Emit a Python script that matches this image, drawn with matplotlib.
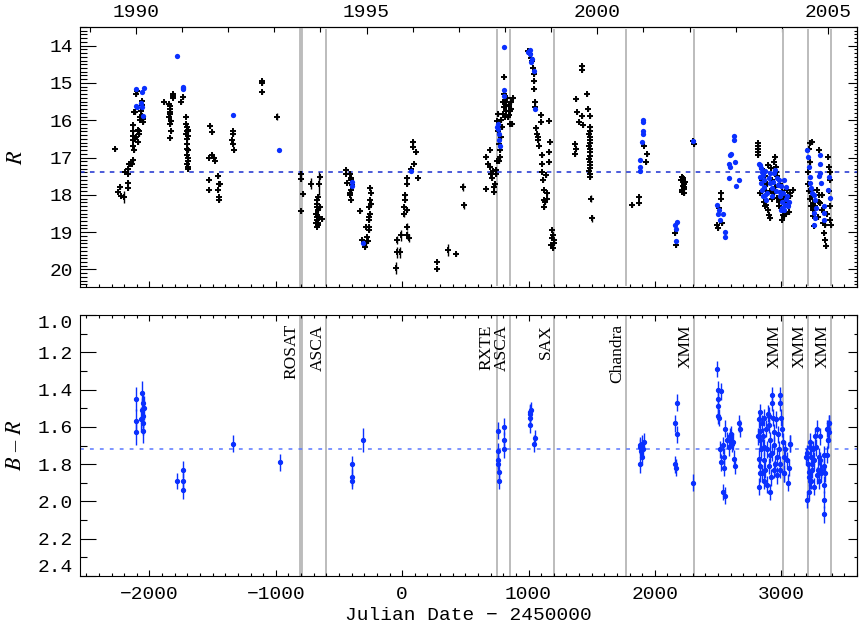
import matplotlib
matplotlib.use("Agg")
import matplotlib.pyplot as plt
import matplotlib.transforms as mtransforms
import numpy as np

# R light curve, black = archival points (plus signs with error bars)
r_black_jd = [
    -2273, -2246, -2233, -2228, -2194, -2167, -2167, -2159, -2167, -2167, -2154, -2141, -2128, -2122,
    -2128, -2128, -2133, -2128, -2128, -2120, -2114, -2106, -2101, -2088, -2080, -2080, -2075, -2070,
    -2062, -2062, -2054, -2048, -2110, -2115, -2090, -2075, -2050, -2058,
    -1885, -1842, -1837, -1837, -1842, -1832, -1837, -1832, -1837, -1816, -1811, -1816, -1840, -1840,
    -1753, -1732,
    -1710, -1711, -1705, -1700, -1711, -1692, -1705, -1700, -1700, -1692, -1700, -1692, -1700, -1692,
    -1692, -1695, -1695, -1697,
    -1520, -1507, -1526, -1505, -1486, -1478, -1526, -1526, -1454, -1449, -1441, -1454, -1446, -1446,
    -1341, -1336, -1349, -1336, -1330, -1111, -1111, -1111,
    -802, -802, -786, -802,
    -676, -676, -681, -676, -676, -670, -662, -668, -654, -654, -670, -636, -681, -676, -672, -665,
    -443, -443, -438, -412, -406, -398, -406, -412, -404, -406, -410, -332,
    -319, -293, -280, -274, -285, -266, -253, -259, -253, -248, -253, -266, -259, -285, -262, -250,
    16, 24, 19, 37, 37, 42, 69, 90, 85, 85, 111, 124, 275, 275, 428,
    666, 666, 676, 697, 697, 710, 724, 729, 737, 745, 750, 750, 755, 763, 771, 776, 782, 790, 798, 803,
    803, 808, 816, 824, 829, 834, 842, 850, 856, 861, 869, 877, 760, 768, 780, 795, 810, 820, 845, 865,
    700, 740, 720,
    993, 1009, 1019, 1027, 1035, 1040, 1046, 1046, 1054, 1054, 1067, 1072, 1080, 1098, 1101, 1106, 1106,
    1114, 1120, 1125, 1125, 1146, 1159, 1167, 1159, 1164, 1138, 1075, 1062, 1110, 1150, 1130,
    1186, 1194, 1199, 1180, 1191, 1199, 1186,
    1370, 1378, 1370, 1378, 1384, 1397, 1423, 1423, 1423, 1431, 1463, 1468, 1484,
    1484, 1486, 1482, 1488, 1484, 1486, 1482, 1488, 1484, 1486, 1482, 1488, 1484, 1486, 1482, 1488, 1486,
    1819, 1872, 1872, 1917, 1938, 1933, 2162, 2170,
    2215, 2221, 2227, 2233, 2215, 2227, 2210, 2220, 2230, 2235, 2212, 2225, 2301, 2307,
    2491, 2523, 2531, 2505, 2525, 2500,
    2816, 2816, 2818, 2816, 2818, 2882, 2892, 2900, 2908, 2940, 2953, 2961, 2940, 2966, 3014, 3006,
    3019, 3046, 3067, 3072, 3093, 2919, 2874, 2861, 2834, 2980, 3024, 2850, 2870, 2890, 2910, 2930,
    2950, 2970, 2990, 3000, 3030, 3050, 3060, 2845, 2880, 2925, 2985, 3040, 3010, 2895, 2960,
    3217, 3230, 3244, 3236, 3244, 3252, 3236, 3252, 3262, 3283, 3296, 3310, 3323, 3331, 3341, 3349,
    3357, 3296, 3368, 3376, 3384, 3389, 3384, 3389, 3225, 3210, 3215, 3230, 3250, 3270, 3290, 3300,
    3320, 3345, 3360, 3380, 3390, 3395, 3220,
]
r_black_mag = [
    16.77, 17.92, 17.79, 18.03, 17.39, 17.30, 17.43, 17.16, 17.67, 17.81, 17.18, 17.16, 17.06, 16.79,
    16.68, 16.54, 16.41, 16.28, 16.12, 15.79, 15.77, 15.30, 15.21, 16.59, 16.38, 16.28, 15.92, 15.74,
    15.49, 15.88, 16.05, 15.96, 16.45, 16.50, 16.25, 16.00, 15.90, 15.60,
    15.52, 15.56, 15.70, 15.83, 15.92, 16.01, 16.10, 16.28, 16.47, 15.30, 15.34, 15.39, 15.62, 15.78,
    15.52, 15.37,
    15.90, 16.10, 16.19, 16.28, 16.36, 16.41, 16.50, 16.63, 16.76, 16.81, 16.94, 17.08, 17.16, 17.25,
    17.30, 16.25, 16.30, 17.00,
    16.16, 16.32, 17.00, 16.92, 17.01, 17.08, 17.59, 17.88, 17.50, 17.70, 17.72, 17.86, 18.07, 18.14,
    16.30, 16.38, 16.54, 16.63, 16.81, 14.94, 15.01, 15.25,
    17.43, 17.58, 17.98, 18.44,
    18.14, 18.32, 18.50, 18.68, 18.85, 18.76, 18.59, 18.41, 18.32, 17.52, 18.05, 18.66, 18.76, 18.59, 18.25, 18.80,
    17.34, 17.43, 17.67, 17.43, 17.61, 17.74, 17.88, 18.01, 18.14, 17.55, 17.95, 18.43,
    19.21, 19.39, 19.14, 19.25, 18.85, 18.68, 18.50, 18.32, 18.14, 17.96, 17.81, 18.85, 18.94, 19.30, 18.60, 18.25,
    18.32, 18.14, 18.01, 18.41, 17.70, 17.56, 17.30, 17.16, 16.72, 16.59, 16.85, 17.56, 19.79, 19.99, 19.59,
    16.99, 17.83, 17.16, 16.81, 17.25, 17.56, 17.79, 17.92, 17.70, 17.34, 17.08, 16.01, 15.83, 16.63, 16.81,
    16.99, 16.45, 16.19, 15.83, 15.65, 14.85, 15.30, 15.52, 15.74, 15.39, 15.92, 15.61, 16.10, 15.74, 15.52,
    16.10, 15.39, 16.30, 17.10, 16.00, 15.50, 15.90, 15.60, 15.85, 15.70, 17.45, 17.45, 17.35,
    14.14, 14.23, 14.32, 14.41, 14.59, 14.76, 14.94, 15.16, 15.52, 15.65, 16.36, 16.54, 16.68, 15.85, 16.05,
    16.94, 17.16, 17.61, 17.88, 18.14, 18.32, 17.96, 16.01, 16.59, 16.85, 17.12, 17.48, 16.45, 16.20, 17.40,
    18.10, 18.20,
    18.94, 19.08, 19.21, 19.34, 19.43, 19.30, 19.15,
    16.63, 16.76, 16.90, 15.43, 15.79, 16.05, 14.54, 14.66, 15.88, 16.14, 15.30, 15.70, 15.88,
    16.19, 16.28, 16.36, 16.45, 16.54, 16.62, 16.70, 16.78, 16.86, 16.95, 17.03, 17.11, 17.20, 17.28, 17.36,
    17.44, 17.52,
    18.28, 18.05, 18.23, 16.68, 16.90, 17.12, 19.03, 19.34,
    17.52, 17.61, 17.70, 17.79, 17.88, 17.96, 17.60, 17.75, 17.85, 17.65, 17.92, 17.55, 16.56, 16.63,
    18.81, 17.96, 18.76, 18.36, 18.10, 18.90,
    16.62, 16.70, 16.78, 16.86, 16.93, 18.27, 18.40, 18.53, 18.62, 17.11, 16.98, 17.24, 17.96, 18.09, 18.53,
    18.67, 18.58, 17.87, 17.96, 18.04, 17.87, 17.29, 18.31, 18.18, 17.96, 18.31, 18.04, 17.30, 17.50, 17.70,
    17.90, 17.60, 17.80, 17.50, 17.70, 18.10, 18.20, 18.30, 18.45, 17.60, 17.90, 18.10, 18.20, 18.50, 17.90,
    17.20, 17.40,
    16.76, 16.62, 16.58, 17.87, 18.04, 18.22, 18.31, 18.58, 18.84, 17.87, 18.00, 18.22, 18.40, 18.76, 19.02,
    19.20, 19.38, 16.80, 16.98, 17.24, 17.38, 17.60, 18.31, 18.67, 17.11, 17.40, 17.70, 18.10, 18.40, 18.30,
    18.60, 18.20, 18.00, 18.80, 18.50, 17.90, 17.40, 18.80, 17.90,
]
# archival points with large error bars
r_wide_jd = [-2202, -987, -723, -657, -47, -42, -37, -21, -10, 11, 37, 42, 58, 359, 481, 486, 1494, 1502]
r_wide_mag = [18.05, 15.90, 17.70, 17.70, 19.96, 19.54, 19.21, 19.54, 19.08, 18.52, 18.85, 19.08, 19.16,
              19.48, 17.79, 18.28, 18.10, 18.63]
r_wide_err = [0.16, 0.10, 0.15, 0.30, 0.15, 0.15, 0.12, 0.15, 0.15, 0.08, 0.10, 0.10, 0.10,
              0.15, 0.10, 0.10, 0.10, 0.10]

# R light curve, blue = new monitoring
r_blue_jd = [
    -2106, -2106, -2101, -2062, -2046, -2067, -2056, -2054, -1784, -1734, -1734, -1733, -1341, -971,
    -398, -398, -311, 72,
    808, 808, 808, 755, 755, 763, 763, 771, 750,
    1009, 1014, 1019, 1040, 1054, 998, 1025,
    1906, 1904, 1898, 1885, 1885, 1885, 1904, 1906, 2176, 2162, 2170, 2170, 2301,
    2491, 2497, 2513, 2539, 2552, 2557, 2505,
    2584, 2592, 2584, 2597, 2602, 2629, 2629, 2637, 2639, 2668,
    2829, 2840, 2848, 2834, 2856, 2840, 2861, 2848, 2866, 2874, 2856, 2882, 2900, 2914, 2908, 2927, 2927,
    2940, 2953, 2966, 2972, 2988, 2980, 2993, 3006, 3006, 3019, 3032, 3046, 3040, 3024, 3059, 2998, 2821,
    2870, 2890, 2935, 2960, 3000, 3015, 3035, 3050,
    3204, 3209, 3217, 3225, 3230, 3236, 3257, 3270, 3278, 3262, 3270, 3257, 3304, 3310, 3310, 3315, 3336,
    3341, 3341, 3376, 3370, 3384, 3240, 3300,
]
r_blue_mag = [
    15.17, 15.61, 15.65, 15.25, 15.14, 15.55, 15.65, 15.88, 14.27, 15.10, 15.14, 15.17, 15.85, 16.79,
    17.65, 17.77, 19.28, 17.36,
    14.04, 15.19, 15.34, 16.10, 16.23, 16.36, 16.52, 16.69, 16.19,
    14.12, 14.23, 14.45, 14.68, 15.70, 14.18, 14.35,
    16.04, 16.36, 16.59, 17.06, 17.25, 17.36, 16.30, 16.00, 18.72, 18.81, 18.92, 19.25, 16.56,
    18.28, 18.50, 18.68, 18.50, 18.99, 19.12, 18.40,
    17.16, 17.25, 17.56, 16.94, 16.90, 16.41, 16.52, 17.12, 17.77, 17.61,
    17.20, 17.29, 17.38, 17.51, 17.47, 17.69, 17.60, 17.87, 17.78, 18.00, 18.04, 18.13, 17.56, 17.69, 17.42,
    17.82, 18.04, 17.42, 17.33, 17.56, 17.73, 17.91, 17.60, 18.04, 18.18, 18.36, 18.40, 18.27, 18.04, 17.78,
    17.60, 18.18, 18.40, 17.16, 17.35, 17.95, 17.65, 17.90, 17.75, 17.95, 18.10, 18.30,
    16.80, 16.98, 17.24, 17.51, 17.69, 17.82, 18.00, 18.13, 18.36, 18.49, 18.62, 18.80, 16.93, 17.16, 17.42,
    17.69, 18.31, 18.49, 18.67, 17.51, 17.87, 18.09, 17.95, 17.50,
]
r_mean = 17.38

# B - R colour
br_jd = [
    -1782, -1736, -1736, -1736, -1341, -966, -398, -398, -398,
    758, 758, 758, 758, 768, 768, 808, 808, 808,
    1009, 1014, 1019, 1014, 1009, 1040, 1054,
    1880, 1885, 1890, 1898, 1906, 1898, 1912, 1885,
    2162, 2176, 2176, 2162, 2168, 2302,
    2492, 2498, 2500, 2500, 2500, 2506, 2524, 2514, 2524, 2540, 2545, 2545, 2540, 2556, 2558, 2572, 2585,
    2593, 2603, 2619, 2630, 2638, 2664, 2672, 2611,
    2821, 2829, 2834, 2840, 2821, 2834, 2848, 2856, 2861, 2866, 2848, 2874, 2882, 2892, 2900, 2908, 2914,
    2900, 2919, 2927, 2932, 2940, 2945, 2953, 2961, 2972, 2980, 2988, 2993, 2998, 3006, 3014, 3019, 3024,
    3032, 3046, 3059, 3067, 2887, 2927, 2966, 2834, 2861, 2813,
    2822, 2836, 2862, 2888, 2910, 2941, 2968, 2994, 3020, 3052, 3068, 2928, 2994, 2902,
    3204, 3209, 3217, 3225, 3230, 3236, 3244, 3252, 3262, 3270, 3278, 3283, 3288, 3296, 3310, 3315, 3336,
    3341, 3349, 3368, 3368, 3381, 3376, 3217, 3230,
    3205, 3218, 3232, 3258, 3284, 3298, 3316, 3337, 3342, 3342, 3200, 3245, 3311, 3364, 3382, 3369, 3364,
]
br_val = [
    1.89, 1.83, 1.89, 1.94, 1.69, 1.79, 1.80, 1.87, 1.89,
    1.62, 1.73, 1.78, 1.80, 1.84, 1.89, 1.60, 1.67, 1.72,
    1.52, 1.53, 1.51, 1.59, 1.55, 1.69, 1.66,
    1.80, 1.71, 1.73, 1.69, 1.72, 1.76, 1.68, 1.70,
    1.58, 1.47, 1.64, 1.80, 1.82, 1.90,
    1.29, 1.40, 1.45, 1.49, 1.54, 1.55, 1.41, 1.72, 1.79, 1.70, 1.76, 1.82, 1.95, 1.97, 1.61, 1.67, 1.71,
    1.65, 1.64, 1.68, 1.77, 1.81, 1.58, 1.61, 1.69,
    1.56, 1.62, 1.67, 1.72, 1.77, 1.81, 1.58, 1.65, 1.71, 1.78, 1.85, 1.83, 1.61, 1.53, 1.59, 1.67, 1.75,
    1.81, 1.87, 1.47, 1.55, 1.63, 1.70, 1.80, 1.56, 1.64, 1.72, 1.83, 1.47, 1.55, 1.61, 1.68, 1.76, 1.85,
    1.72, 1.78, 1.82, 1.69, 1.72, 1.74, 1.76, 1.52, 1.55, 1.65,
    1.92, 1.85, 1.89, 1.91, 1.95, 1.83, 1.86, 1.80, 1.85, 1.90, 1.69, 1.43, 1.43, 1.54,
    1.74, 1.80, 1.84, 1.71, 1.68, 1.76, 1.83, 1.72, 1.78, 1.65, 1.71, 1.61, 1.83, 1.76, 1.65, 1.85, 1.81,
    1.75, 1.85, 1.67, 1.61, 1.58, 1.63, 1.87, 1.89,
    1.99, 1.95, 1.89, 1.92, 1.86, 1.89, 1.83, 1.91, 1.99, 2.07, 1.76, 1.80, 1.78, 1.61, 1.58, 1.67, 1.75,
]
# points with longer error bars
br_wide_jd = [-2106, -2106, -2106, -2069, -2061, -2061, -2053, -2048, -2043, -2048, -2053, -311]
br_wide_val = [1.45, 1.57, 1.63, 1.56, 1.42, 1.51, 1.54, 1.58, 1.50, 1.62, 1.47, 1.67]
br_mean = 1.72

# X-ray pointings
obs_jd = [-800, -604, 752, 855, 1203, 1771, 2312, 3014, 3212, 3394]
obs_name = ["ROSAT", "ASCA", "RXTE", "ASCA", "SAX", "Chandra", "XMM", "XMM", "XMM", "XMM"]

blue = "#0a30ff"
grey = "#bcbcbc"
mono = "Liberation Mono"
plt.rcParams["mathtext.fontset"] = "stix"

fig = plt.figure(figsize=(8.61, 6.43), dpi=100)
ax1 = fig.add_axes([80 / 861, 1 - 287 / 643, 777 / 861, 260 / 643])
ax2 = fig.add_axes([80 / 861, 1 - 576 / 643, 777 / 861, 261 / 643])

for ax in (ax1, ax2):
    ax.set_xlim(-2550, 3600)
    for s in ax.spines.values():
        s.set_linewidth(0.8)
    for jd, name in zip(obs_jd, obs_name):
        lw = 2.8 if name == "ROSAT" else 1.4
        lo, hi = (0.008, 0.988) if ax is ax1 else (0, 1)
        ax.axvline(jd, ymin=lo, ymax=hi, color=grey, lw=lw, zorder=1)

# top panel
ax1.errorbar(r_black_jd, r_black_mag, yerr=0.05, fmt="+", color="k", ms=5, mew=1.4,
             elinewidth=1.0, capsize=0, zorder=3)
ax1.errorbar(r_wide_jd, r_wide_mag, yerr=r_wide_err, fmt="+", color="k", ms=5, mew=1.4,
             elinewidth=1.0, capsize=0, zorder=3)
ax1.plot(r_blue_jd, r_blue_mag, "o", color=blue, ms=3.8, mec="none", zorder=4)
ax1.axhline(r_mean, color="#1a2fd0", lw=1.1, ls=(0, (3, 3.5)), zorder=2)
ax1.set_ylim(20.47, 13.5)
ax1.set_yticks(np.arange(14, 21, 1))
ax1.set_yticks(np.arange(13.5, 20.5, 0.1), minor=True)
ax1.set_xticks(np.arange(-2000, 4000, 1000))
ax1.set_xticks(np.arange(-2500, 3700, 100), minor=True)
ax1.tick_params(axis="x", which="major", direction="in", length=4.5, width=0.8,
                labelbottom=False, top=False)
ax1.tick_params(axis="x", which="minor", direction="in", length=2.2, width=0.8, top=False)
ax1.set_ylabel("$R$", fontsize=16)

# year axis on top
yrs = lambda jd: 2000 + (np.asarray(jd) - 1544.5) / 365.25
jds = lambda y: 1544.5 + (np.asarray(y) - 2000) * 365.25
top = ax1.secondary_xaxis("top", functions=(yrs, jds))
top.set_xticks([1990, 1995, 2000, 2005])
top.set_xticks(np.arange(1989, 2007, 1), minor=True)
top.tick_params(which="major", direction="in", length=5, width=0.8, pad=4)
top.tick_params(which="minor", direction="in", length=3.5, width=0.8)
top.spines["top"].set_linewidth(0.8)
for t in top.get_xticklabels():
    t.set_fontfamily(mono)
    t.set_fontsize(14)

# bottom panel
ax2.errorbar(br_jd, br_val, yerr=0.045, fmt="o", color=blue, ms=2.8, elinewidth=1.0, capsize=0,
             zorder=3)
ax2.errorbar(br_wide_jd, br_wide_val, yerr=0.065, fmt="o", color=blue, ms=2.8, elinewidth=1.0,
             capsize=0, zorder=3)
ax2.axhline(br_mean, color="#5a78ff", lw=1.1, ls=(0, (2.5, 4)), zorder=2)
ax2.set_ylim(2.4, 1.0)
ax2.set_yticks(np.arange(1.0, 2.41, 0.2))
ax2.set_yticks(np.arange(1.0, 2.41, 0.1), minor=True)
ax2.set_yticklabels(["%.1f" % v for v in np.arange(1.0, 2.41, 0.2)])
ax2.set_xticks(np.arange(-2000, 4000, 1000))
ax2.set_xticks(np.arange(-2500, 3700, 100), minor=True)
ax2.tick_params(axis="x", which="major", direction="in", length=4.5, width=0.8, top=True, pad=7)
ax2.tick_params(axis="x", which="minor", direction="in", length=2.2, width=0.8, top=True)
ax2.set_ylabel("$B$ – $R$", fontsize=16, fontfamily="Liberation Serif")
ax2.set_xlabel("Julian Date − 2450000", fontfamily=mono, fontsize=14, labelpad=3)

trans = mtransforms.blended_transform_factory(ax2.transData, ax2.transAxes)
for jd, name in zip(obs_jd, obs_name):
    off = {"ROSAT": 14, "RXTE": 22}.get(name, 3)
    ax2.text(jd - off, 0.965, name, rotation=90, ha="right", va="top", transform=trans,
             fontfamily="Liberation Serif", fontsize=12.5, zorder=5)

# y ticks: long on the left, short on the right
for ax in (ax1, ax2):
    ax.tick_params(axis="y", which="major", direction="in", length=11.5, width=0.8, right=False,
                   pad=5)
    ax.tick_params(axis="y", which="minor", direction="in", length=5, width=0.8, right=False)
    for t in ax.get_yticklabels() + ax.get_xticklabels():
        t.set_fontfamily(mono)
        t.set_fontsize(14)
    ax.yaxis.set_label_coords(-0.07, 0.5)
    rt = ax.secondary_yaxis("right")
    rt.set_yticks(ax.get_yticks())
    rt.set_yticks(ax.get_yticks(minor=True), minor=True)
    rt.tick_params(which="major", direction="in", length=6.5, width=0.8, labelright=False)
    rt.tick_params(which="minor", direction="in", length=2.5, width=0.8)
    rt.spines["right"].set_linewidth(0.8)

# keep end labels inside the frame like the original
labs = ax2.get_yticklabels()
labs[0].set_va("top")
labs[-1].set_va("bottom")

fig.savefig("out.png", dpi=100)
